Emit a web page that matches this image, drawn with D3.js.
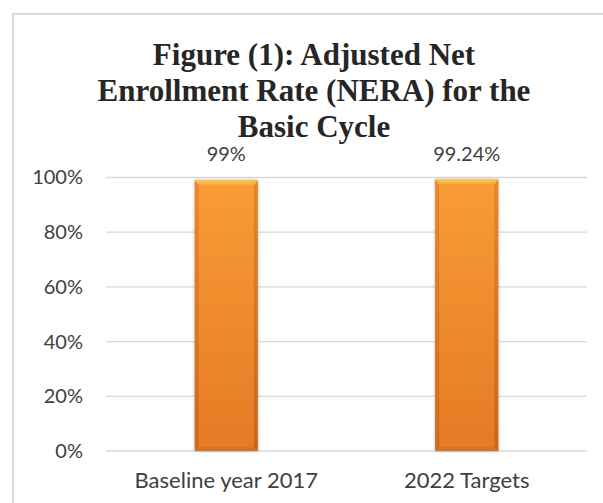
<!DOCTYPE html>
<html>
<head>
<meta charset="utf-8">
<script src="https://cdn.jsdelivr.net/npm/d3@7"></script>
<style>
  html, body { margin: 0; padding: 0; background: #fff; }
  svg { display: block; }
</style>
</head>
<body>
<svg id="chart" width="603" height="503"></svg>
<script>
// Chart data
const categories = ["Baseline year 2017", "2022 Targets"];
const values = [0.99, 0.9924];
const valueLabels = ["99%", "99.24%"];
const yTicks = [0, 0.2, 0.4, 0.6, 0.8, 1.0];
const titleLines = ["Figure (1): Adjusted Net", "Enrollment Rate (NERA) for the", "Basic Cycle"];

const svg = d3.select("#chart");
const plot = { left: 106, right: 587, top: 177.5, bottom: 451 };

const sansFont = "Lato, 'Open Sans', sans-serif";
const serifFont = "'Liberation Serif', 'Times New Roman', serif";

// Defs: bar gradient, bevel shades, drop shadow
const defs = svg.append("defs");
const g1 = defs.append("linearGradient").attr("id", "barFill")
  .attr("x1", 0).attr("y1", 0).attr("x2", 0).attr("y2", 1);
g1.append("stop").attr("offset", "0%").attr("stop-color", "#f99c36");
g1.append("stop").attr("offset", "100%").attr("stop-color", "#e57a25");

const gs = defs.append("linearGradient").attr("id", "sideShade")
  .attr("x1", 0).attr("y1", 0).attr("x2", 0).attr("y2", 1);
gs.append("stop").attr("offset", "0%").attr("stop-color", "#e0842c");
gs.append("stop").attr("offset", "100%").attr("stop-color", "#c4651c");

const gt = defs.append("linearGradient").attr("id", "topShade")
  .attr("x1", 0).attr("y1", 0).attr("x2", 0).attr("y2", 1);
gt.append("stop").attr("offset", "0%").attr("stop-color", "#fdc65a");
gt.append("stop").attr("offset", "100%").attr("stop-color", "#f9a53e");

const shadow = defs.append("filter").attr("id", "barShadow")
  .attr("x", "-20%").attr("y", "-5%").attr("width", "140%").attr("height", "110%");
shadow.append("feDropShadow").attr("dx", 0).attr("dy", 0)
  .attr("stdDeviation", 1.6).attr("flood-color", "#000").attr("flood-opacity", 0.35);

// Outer frame
svg.append("rect")
  .attr("x", 13).attr("y", 14).attr("width", 603).attr("height", 500)
  .attr("fill", "#fff").attr("stroke", "#d9d9d9").attr("stroke-width", 2);

// Scales
const x = d3.scaleBand().domain(categories).range([plot.left, plot.right]).paddingInner(0.738).paddingOuter(0.369);
const y = d3.scaleLinear().domain([0, 1]).range([plot.bottom, plot.top]);

// Gridlines
svg.append("g")
  .selectAll("line").data(yTicks).join("line")
  .attr("x1", plot.left).attr("x2", plot.right)
  .attr("y1", d => y(d)).attr("y2", d => y(d))
  .attr("stroke", "#d9d9d9").attr("stroke-width", 1.3);

// Y axis labels
const yAxis = d3.axisLeft(y).tickValues(yTicks).tickFormat(d3.format(".0%")).tickSize(0).tickPadding(0);
const ya = svg.append("g").attr("transform", `translate(83,0)`).call(yAxis);
ya.select(".domain").remove();
ya.selectAll("text").attr("font-family", sansFont).attr("font-size", 20).attr("fill", "#404040");

// X axis labels
const xAxis = d3.axisBottom(x).tickSize(0).tickPadding(0);
const xa = svg.append("g").attr("transform", `translate(0,472)`).call(xAxis);
xa.select(".domain").remove();
xa.selectAll("text").attr("font-family", sansFont).attr("font-size", 22).attr("fill", "#404040");

// Bars with bevel
const bars = svg.append("g").selectAll("g.bar").data(categories).join("g").attr("class", "bar");
bars.each(function(c, i) {
  const g = d3.select(this);
  const bx = x(c), bw = x.bandwidth();
  const by = y(values[i]), bh = y(0) - y(values[i]);
  g.append("rect").attr("x", bx).attr("y", by).attr("width", bw).attr("height", bh)
    .attr("fill", "url(#barFill)").attr("filter", "url(#barShadow)");
  const bev = 4;
  // side bevels
  g.append("path")
    .attr("d", `M${bx},${by} L${bx + bev},${by + bev} L${bx + bev},${by + bh - bev} L${bx},${by + bh} Z`)
    .attr("fill", "url(#sideShade)").attr("opacity", 0.75);
  g.append("path")
    .attr("d", `M${bx + bw},${by} L${bx + bw - bev},${by + bev} L${bx + bw - bev},${by + bh - bev} L${bx + bw},${by + bh} Z`)
    .attr("fill", "url(#sideShade)").attr("opacity", 0.85);
  // top bevel
  g.append("path")
    .attr("d", `M${bx},${by} L${bx + bw},${by} L${bx + bw - bev},${by + bev + 1} L${bx + bev},${by + bev + 1} Z`)
    .attr("fill", "url(#topShade)");
  // bottom bevel
  g.append("path")
    .attr("d", `M${bx},${by + bh} L${bx + bw},${by + bh} L${bx + bw - bev},${by + bh - bev} L${bx + bev},${by + bh - bev} Z`)
    .attr("fill", "#cf6a1f").attr("opacity", 0.6);
});

// Value labels
svg.append("g").selectAll("text").data(categories).join("text")
  .attr("x", c => x(c) + x.bandwidth() / 2)
  .attr("y", (c, i) => y(values[i]) - 19)
  .attr("text-anchor", "middle")
  .attr("font-family", sansFont).attr("font-size", 20).attr("fill", "#404040")
  .text((c, i) => valueLabels[i]);

// Title
svg.append("text")
  .attr("x", 314).attr("text-anchor", "middle")
  .attr("font-family", serifFont).attr("font-weight", "bold").attr("font-size", 31).attr("fill", "#262626")
  .selectAll("tspan").data(titleLines).join("tspan")
  .attr("x", 314).attr("y", (d, i) => 64.5 + i * 36)
  .text(d => d);
</script>
</body>
</html>
